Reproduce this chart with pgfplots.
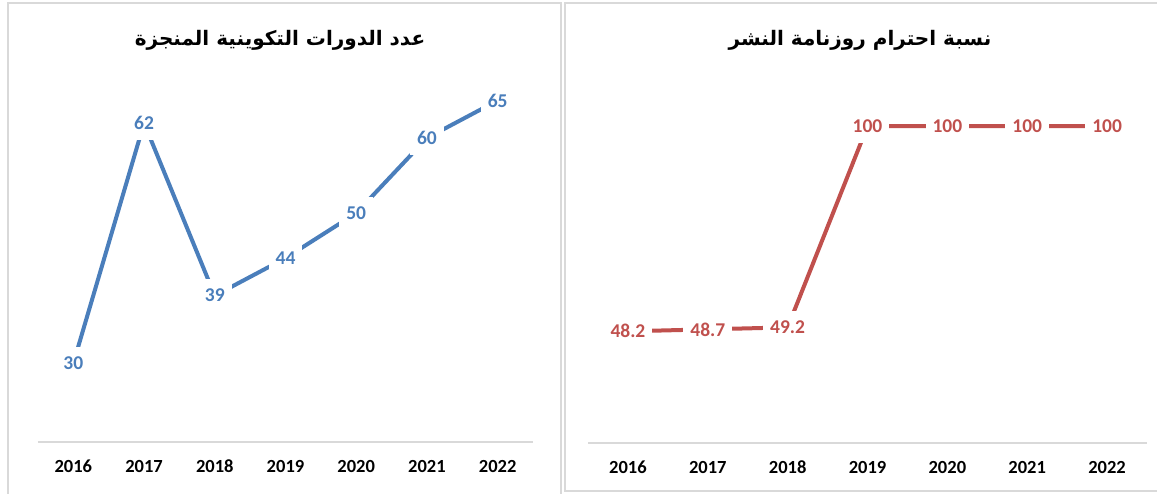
\documentclass[border=0pt]{standalone}
\usepackage{fontspec}
\setmainfont{Carlito}
\newfontfamily\arabicfont[Script=Arabic]{DejaVu Sans}
\TeXXeTstate=1
\usepackage{pgfplots}
\pgfplotsset{compat=1.18}
\definecolor{cblue}{HTML}{4A7EBB}
\definecolor{cred}{HTML}{C0504D}
\definecolor{framec}{HTML}{D9D9D9}
\pgfplotsset{
 mystyle/.style={
  scale only axis, clip=false,
  axis x line*=bottom, axis y line=none,
  x axis line style={draw=framec, line width=1.5pt, -},
  xmin=-0.5, xmax=6.5,
  xtick={0,...,6}, xticklabels={2016,2017,2018,2019,2020,2021,2022},
  major tick length=0pt,
  xticklabel style={anchor=center, yshift=-24pt, font=\bfseries\fontsize{18.5}{22}\selectfont},
  /pgf/number format/assume math mode=true,
  nodes near coords,
  every node near coord/.append style={anchor=center, fill=white, inner xsep=7pt, inner ysep=10pt, font=\bfseries\fontsize{19.5}{23}\selectfont},
 }
}
\begin{document}
\begin{tikzpicture}[x=1pt,y=1pt]
\useasboundingbox (0,0) rectangle (1157,493);
\draw[framec, line width=1.5pt] (8,-5) -- (8,490) -- (561,490) -- (561,-5);
\draw[framec, line width=1.5pt] (1165,2) -- (565,2) -- (565,490) -- (1165,490);

\begin{axis}[mystyle, at={(38pt,51pt)}, anchor=south west, width=495pt, height=379pt, ymin=19.5, ymax=70]
\addplot[cblue, line width=4pt] coordinates {(0,30)(1,62)(2,39)(3,44)(4,50)(5,60)(6,65)};
\end{axis}

\begin{axis}[mystyle, at={(588pt,50pt)}, anchor=south west, width=559pt, height=396pt, ymin=20, ymax=120]
\addplot[cred, line width=4pt] coordinates {(0,48.2)(1,48.7)(2,49.2)(3,100)(4,100)(5,100)(6,100)};
\end{axis}

\node[font=\arabicfont\bfseries\fontsize{20}{24}\selectfont] at (280,453) {\beginR عدد الدورات التكوينية المنجزة\endR};
\node[font=\arabicfont\bfseries\fontsize{20}{24}\selectfont] at (860,453) {\beginR نسبة احترام روزنامة النشر\endR};
\end{tikzpicture}
\end{document}
